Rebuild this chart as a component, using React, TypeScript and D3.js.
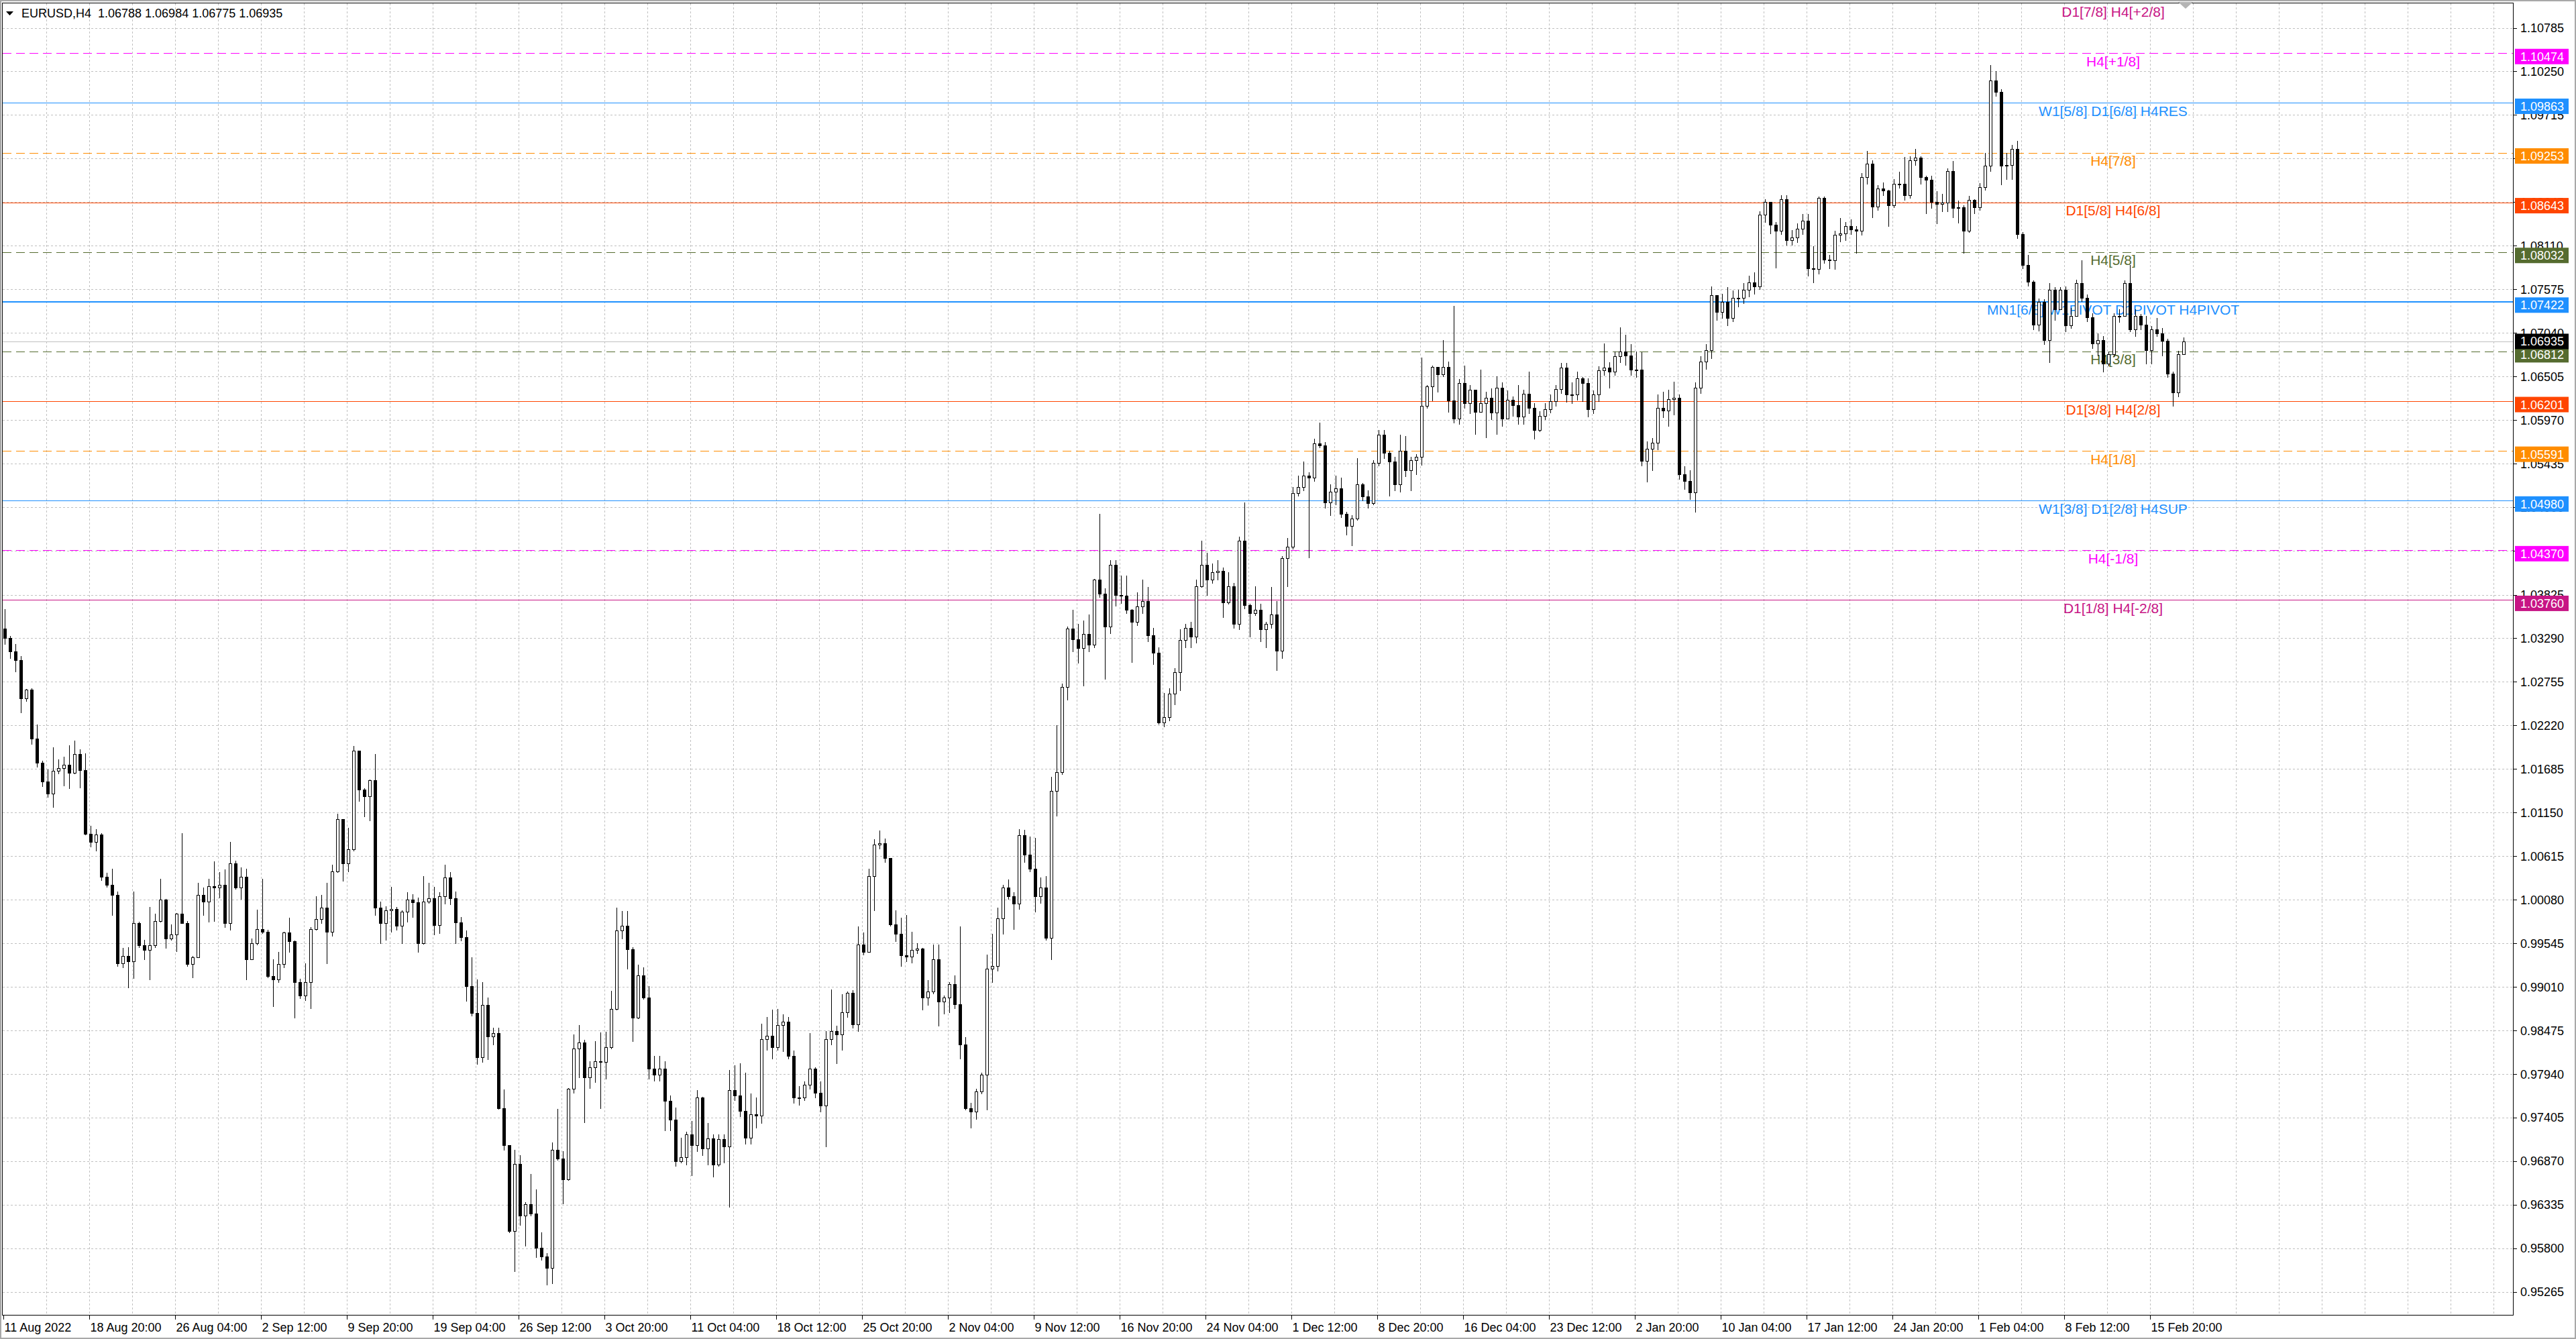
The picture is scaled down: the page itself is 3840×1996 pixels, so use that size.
import React from 'react';
import * as d3 from 'd3';

const WIDTH = 3840;
const HEIGHT = 1996;

const symbolTitle = 'EURUSD,H4  1.06788 1.06984 1.06775 1.06935';

// H4 candles, merged two bars at a time (8 hours each).
// values are pips above 1.0000, so 329 means 1.0329
const firstOpen = 341;

const closes = [
  329, 313, 302, 255, 266, 206, 176, 153, 138, 166,
  170, 174, 164, 187, 167, 89, 79, 88, 36, 26,
  14, -70, -61, -68, -21, -48, -54, -48, -18, 8,
  -40, -35, -9, -21, -71, -63, 14, 6, 25, 23,
  26, -21, 53, 23, 36, -65, -45, -28, -31, -86,
  -90, -71, -32, -43, -93, -110, -93, -28, -16, -2,
  -31, 43, 107, 53, 70, 191, 143, 135, 155, -2,
  -21, -5, -3, -24, -7, 8, 5, -45, 6, 10,
  -23, 12, 35, 10, -20, -38, -98, -131, -185, -121,
  -160, -156, -248, -293, -399, -316, -380, -366, -377, -419,
  -430, -444, -299, -310, -335, -224, -175, -167, -210, -198,
  -190, -191, -173, -126, -30, -24, -53, -137, -85, -112,
  -199, -207, -199, -239, -262, -313, -308, -280, -293, -235,
  -297, -285, -317, -286, -295, -226, -232, -251, -284, -255,
  -257, -163, -159, -173, -146, -142, -184, -235, -235, -219,
  -199, -229, -245, -163, -153, -157, -130, -106, -145, -47,
  -56, 37, 76, 77, 59, -22, -34, -60, -62, -54,
  -52, -112, -105, -65, -117, -112, -96, -120, -170, -248,
  -252, -227, -207, -77, -73, -15, 23, 12, 3, 87,
  63, 46, 12, 23, -39, 142, 165, 269, 341, 328,
  317, 334, 321, 401, 384, 343, 419, 382, 381, 364,
  349, 368, 375, 333, 311, 226, 232, 261, 287, 327,
  342, 331, 393, 419, 401, 410, 412, 373, 393, 347,
  449, 370, 360, 364, 340, 347, 358, 314, 427, 441,
  507, 515, 529, 526, 568, 566, 496, 509, 513, 482,
  467, 476, 518, 503, 495, 544, 579, 557, 546, 518,
  559, 535, 548, 552, 614, 638, 662, 653, 662, 621,
  599, 642, 618, 634, 607, 618, 624, 606, 637, 599,
  622, 615, 601, 629, 612, 585, 602, 610, 620, 635,
  661, 628, 628, 648, 642, 610, 628, 658, 661, 656,
  675, 681, 676, 659, 659, 547, 562, 569, 612, 609,
  623, 624, 530, 522, 508, 637, 669, 683, 750, 730,
  742, 722, 747, 747, 757, 766, 761, 849, 865, 837,
  829, 868, 818, 821, 832, 842, 783, 782, 870, 794,
  793, 824, 826, 835, 831, 829, 895, 912, 859, 881,
  879, 861, 887, 887, 873, 916, 919, 895, 892, 865,
  862, 864, 903, 857, 858, 829, 867, 858, 883, 909,
  1014, 1000, 909, 910, 930, 825, 787, 767, 714, 742,
  695, 757, 733, 757, 713, 725, 765, 747, 723, 691,
  695, 666, 678, 725, 725, 765, 708, 725, 714, 683,
  708, 703, 694, 654, 631, 678, 693.5,
];

const highs = [
  365, 332, 322, 307, 267, 268, 223, 179, 168, 195,
  180, 184, 198, 203, 193, 188, 99, 95, 90, 41,
  46, 18, -51, -50, 18, -19, -41, -1, -9, 34,
  9, -22, -8, 90, -18, -61, 29, 23, 34, 55,
  42, 45, 79, 56, 48, 46, -40, -4, 34, -29,
  -65, -56, -31, -14, -42, -89, -70, -26, 12, 14,
  29, 51, 114, 107, 96, 197, 191, 145, 156, 187,
  6, 0, 24, -1, -5, 17, 15, 11, 37, 29,
  24, 17, 51, 42, 18, -13, -30, -63, -90, -93,
  -112, -149, -149, -225, -293, -299, -306, -363, -329, -348,
  -400, -426, -290, -249, -301, -223, -157, -146, -164, -190,
  -166, -155, -154, -104, -2, -6, -6, -50, -72, -75,
  -98, -184, -184, -190, -232, -247, -284, -277, -264, -226,
  -234, -266, -280, -280, -280, -201, -195, -193, -204, -230,
  -235, -144, -136, -127, -126, -133, -136, -177, -221, -215,
  -156, -198, -215, -153, -102, -147, -108, -105, -103, -25,
  -32, 46, 82, 93, 83, 59, -5, -14, -11, -31,
  -45, -51, -91, -47, -47, -110, -93, -85, -25, -161,
  -241, -224, -204, -59, -34, -2, 26, 33, 17, 95,
  94, 86, 84, 35, 37, 159, 222, 273, 343, 364,
  347, 351, 358, 402, 482, 390, 425, 425, 406, 406,
  365, 385, 401, 392, 342, 318, 262, 268, 292, 340,
  347, 349, 401, 449, 434, 421, 425, 416, 410, 397,
  454, 496, 371, 393, 371, 349, 392, 375, 430, 452,
  515, 529, 546, 533, 574, 594, 570, 518, 529, 526,
  484, 480, 550, 520, 511, 548, 585, 585, 559, 552,
  579, 577, 552, 555, 674, 640, 664, 656, 695, 669,
  737, 647, 664, 640, 630, 659, 632, 636, 651, 643,
  633, 626, 640, 634, 656, 618, 608, 618, 628, 640,
  667, 667, 643, 656, 650, 648, 633, 663, 691, 668,
  681, 711, 702, 690, 681, 680, 571, 575, 628, 632,
  634, 644, 628, 540, 535, 643, 675, 690, 761, 745,
  752, 760, 756, 757, 765, 774, 778, 853, 868, 860,
  840, 873, 873, 830, 838, 850, 850, 810, 871, 871,
  800, 829, 845, 840, 843, 835, 900, 927, 916, 885,
  889, 880, 893, 902, 920, 921, 930, 921, 897, 897,
  878, 875, 906, 915, 866, 861, 872, 868, 888, 925,
  1033, 1025, 1003, 925, 935, 940, 828, 800, 768, 746,
  745, 765, 760, 760, 761, 735, 769, 793, 751, 728,
  703, 700, 681, 728, 733, 768, 787, 733, 727, 725,
  712, 722, 710, 697, 656, 682, 698.4,
];

const lows = [
  322, 305, 288, 238, 252, 199, 171, 147, 134, 122,
  163, 148, 145, 163, 146, 88, 73, 68, 32, 24,
  -11, -73, -75, -100, -88, -50, -65, -90, -50, -19,
  -51, -41, -55, -21, -73, -87, -63, -11, -19, -18,
  11, -26, -29, 21, 9, -90, -65, -47, -33, -87,
  -123, -93, -75, -56, -137, -113, -115, -125, -29, -21,
  -70, -36, 42, 31, 43, 68, 129, 110, 105, -11,
  -45, -41, -31, -29, -45, -19, -13, -56, -46, 4,
  -35, -33, 3, 2, -45, -42, -116, -134, -194, -191,
  -188, -170, -249, -299, -400, -448, -391, -417, -380, -431,
  -434, -465, -463, -311, -365, -336, -229, -210, -265, -223,
  -216, -248, -212, -175, -127, -40, -77, -166, -138, -114,
  -212, -214, -214, -275, -275, -319, -315, -317, -330, -301,
  -306, -317, -332, -319, -315, -369, -238, -258, -292, -292,
  -272, -266, -176, -187, -176, -178, -187, -241, -244, -238,
  -224, -235, -252, -295, -170, -193, -176, -136, -149, -153,
  -59, -56, -5, 71, 54, -24, -43, -73, -68, -69,
  -58, -127, -121, -107, -147, -132, -130, -125, -187, -250,
  -272, -261, -230, -250, -93, -79, -34, 9, -28, -3,
  54, 43, -7, 4, -41, -65, 111, 162, 254, 313,
  299, 271, 313, 318, 380, 279, 335, 369, 372, 360,
  300, 345, 360, 325, 297, 224, 221, 228, 248, 265,
  318, 318, 324, 392, 382, 397, 401, 355, 371, 342,
  340, 366, 331, 357, 325, 318, 342, 290, 305, 393,
  439, 504, 511, 428, 522, 563, 489, 480, 493, 478,
  456, 443, 474, 498, 489, 493, 541, 550, 504, 511,
  509, 528, 511, 530, 542, 612, 621, 632, 651, 607,
  594, 592, 612, 605, 580, 607, 576, 598, 580, 590,
  608, 602, 592, 592, 605, 574, 583, 598, 606, 614,
  630, 619, 618, 622, 620, 601, 605, 620, 652, 637,
  652, 668, 665, 652, 650, 541, 521, 535, 561, 600,
  590, 604, 525, 512, 500, 484, 630, 660, 673, 720,
  722, 713, 718, 736, 740, 749, 752, 758, 840, 826,
  784, 825, 812, 812, 815, 825, 774, 766, 777, 790,
  783, 782, 816, 818, 825, 802, 824, 887, 846, 855,
  873, 835, 858, 882, 867, 870, 910, 887, 851, 857,
  838, 853, 853, 846, 839, 802, 828, 851, 855, 880,
  903, 995, 886, 893, 893, 820, 783, 762, 708, 707,
  690, 668, 720, 733, 706, 710, 725, 743, 718, 685,
  676, 656, 664, 675, 717, 725, 706, 700, 708, 666,
  666, 700, 676, 650, 614, 626, 677.5,
];

const priceTicks = [
  '1.10785', '1.10250', '1.09715', '1.09180', '1.08645', '1.08110', '1.07575', '1.07040',
  '1.06505', '1.05970', '1.05435', '1.04900', '1.04365', '1.03825', '1.03290', '1.02755',
  '1.02220', '1.01685', '1.01150', '1.00615', '1.00080', '0.99545', '0.99010', '0.98475',
  '0.97940', '0.97405', '0.96870', '0.96335', '0.95800', '0.95265',
];

// one label every 32 H4 bars
const timeLabels = [
  '11 Aug 2022', '18 Aug 20:00', '26 Aug 04:00', '2 Sep 12:00', '9 Sep 20:00', '19 Sep 04:00',
  '26 Sep 12:00', '3 Oct 20:00', '11 Oct 04:00', '18 Oct 12:00', '25 Oct 20:00', '2 Nov 04:00',
  '9 Nov 12:00', '16 Nov 20:00', '24 Nov 04:00', '1 Dec 12:00', '8 Dec 20:00', '16 Dec 04:00',
  '23 Dec 12:00', '2 Jan 20:00', '10 Jan 04:00', '17 Jan 12:00', '24 Jan 20:00', '1 Feb 04:00',
  '8 Feb 12:00', '15 Feb 20:00',
];

// murrey math levels
const levelNames = [
  'D1[7/8] H4[+2/8]', 'H4[+1/8]', 'W1[5/8] D1[6/8] H4RES', 'H4[7/8]', 'D1[5/8] H4[6/8]',
  'H4[5/8]', 'MN1[6/8] W1PIVOT D1PIVOT H4PIVOT', 'H4[3/8]', 'D1[3/8] H4[2/8]', 'H4[1/8]',
  'W1[3/8] D1[2/8] H4SUP', 'H4[-1/8]', 'D1[1/8] H4[-2/8]',
];
const levelPrices = [
  1.11084, 1.10474, 1.09863, 1.09253, 1.08643, 1.08032, 1.07422, 1.06812, 1.06201,
  1.05591, 1.0498, 1.0437, 1.0376,
];
const currentPrice = 1.06935;

// styles for the levels above
const levelColors = [
  '#C71585', '#FF00FF', '#1E90FF', '#FF8C00', '#FF4500', '#556B2F', '#1E90FF',
  '#556B2F', '#FF4500', '#FF8C00', '#1E90FF', '#FF00FF', '#C71585',
];
const levelDashed = [false, true, false, true, false, true, false, true, false, true, false, true, false];
const levelWidths = [1, 1, 1, 1, 1, 1, 2, 1, 1, 1, 1, 1, 1];

const FONT = "'Liberation Sans', Arial, sans-serif";
const GRID = '#c0c0c0';

const App: React.FC = () => {
    const frame = { left: 3.5, top: 4.5, right: 3746.5, bottom: 1960 };

    const y = d3.scaleLinear()
        .domain([0.95265, 1.10785])
        .range([1925.8, 41.5]);

    // H4 bar index -> pixel centre
    const x = d3.scaleLinear()
        .domain([0, 812])
        .range([5, 3253]);

    const toPrice = (pips: number) => 1 + pips / 10000;

    const candles = closes.map((c, i) => {
        const o = i === 0 ? firstOpen : closes[i - 1];
        return {
            i,
            o: toPrice(o),
            c: toPrice(c),
            h: toPrice(Math.max(highs[i], o, c)),
            l: toPrice(Math.min(lows[i], o, c)),
        };
    });

    const gridBars = d3.range(16, 935, 16);
    const snap = (v: number) => Math.round(v) + 0.5;
    const boxShift = 5; // level tags sit a little below their line

    return (
        <div style={{ position: 'absolute', left: 0, top: 0 }}>
            <svg width={WIDTH} height={HEIGHT} style={{ display: 'block', background: '#fff' }} fontFamily={FONT}>
                <rect x={1} y={1} width={WIDTH - 2} height={HEIGHT - 2} fill="none" stroke="#a8a8a8" strokeWidth={2} />

                {/* grid */}
                <g stroke={GRID} strokeWidth={1} strokeDasharray="3,3" shapeRendering="crispEdges">
                    {priceTicks.map(t => (
                        <line key={t} x1={frame.left} x2={frame.right} y1={snap(y(+t))} y2={snap(y(+t))} />
                    ))}
                    {gridBars.map(k => (
                        <line key={k} x1={snap(x(k))} x2={snap(x(k))} y1={frame.top} y2={frame.bottom} />
                    ))}
                </g>

                {/* current price line */}
                <line x1={frame.left} x2={frame.right} y1={snap(y(currentPrice))} y2={snap(y(currentPrice))}
                    stroke="#c0c0c0" shapeRendering="crispEdges" />

                {/* level lines */}
                <g shapeRendering="crispEdges">
                    {levelPrices.map((p, i) => (p < 1.11 ? (
                        <line key={i} x1={frame.left} x2={frame.right}
                            y1={levelWidths[i] === 2 ? Math.round(y(p)) : snap(y(p))}
                            y2={levelWidths[i] === 2 ? Math.round(y(p)) : snap(y(p))}
                            stroke={levelColors[i]} strokeWidth={levelWidths[i]}
                            strokeDasharray={levelDashed[i] ? '13,7' : undefined} />
                    ) : null))}
                </g>

                {/* level captions */}
                <g fontSize={21} textAnchor="middle">
                    {levelNames.map((name, i) => (
                        <text key={name} x={3150} y={y(levelPrices[i]) + 19.5} fill={levelColors[i]}>{name}</text>
                    ))}
                </g>

                {/* candles */}
                <g shapeRendering="crispEdges">
                    {candles.map(d => {
                        const cx = Math.round(x(2 * d.i + 0.5));
                        const top = Math.round(y(Math.max(d.o, d.c)));
                        const bot = Math.round(y(Math.min(d.o, d.c)));
                        const bull = d.c >= d.o;
                        return (
                            <g key={d.i}>
                                <line x1={cx + 0.5} x2={cx + 0.5} y1={Math.round(y(d.h))} y2={Math.round(y(d.l)) + 1} stroke="#000" />
                                {bull ? (
                                    <rect x={cx - 1.5} y={top + 0.5} width={4} height={Math.max(bot - top, 1)} fill="#fff" stroke="#000" />
                                ) : (
                                    <rect x={cx - 2} y={top} width={5} height={Math.max(bot - top, 1) + 1} fill="#000" />
                                )}
                            </g>
                        );
                    })}
                </g>

                {/* frame */}
                <rect x={frame.left} y={frame.top} width={frame.right - frame.left} height={frame.bottom - frame.top + 0.5}
                    fill="none" stroke="#000" shapeRendering="crispEdges" />

                {/* shift marker */}
                <polygon points="3247,3 3269,3 3258,13" fill="#b4b4b4" />

                {/* header */}
                <polygon points="9,17 20,17 14.5,23" fill="#000" />
                <text x={32} y={26} fontSize={18} fill="#000" style={{ whiteSpace: 'pre' }}>{symbolTitle}</text>

                {/* price axis */}
                <g fontSize={18} fill="#000">
                    {priceTicks.map(t => (
                        <g key={t}>
                            <line x1={frame.right} x2={3752} y1={snap(y(+t))} y2={snap(y(+t))} stroke="#000" shapeRendering="crispEdges" />
                            <text x={3757} y={y(+t) + 6.5}>{t}</text>
                        </g>
                    ))}
                </g>

                {/* level price boxes */}
                <g fontSize={18}>
                    {levelPrices.map((p, i) => (p < 1.11 ? (
                        <g key={i}>
                            <rect x={3749} y={y(p) + boxShift - 11.5} width={80} height={23} fill={levelColors[i]} />
                            <text x={3757} y={y(p) + boxShift + 6.5} fill="#fff">{p.toFixed(5)}</text>
                        </g>
                    ) : null))}
                    <rect x={3749} y={y(currentPrice) - 11.5} width={80} height={23} fill="#000" />
                    <text x={3757} y={y(currentPrice) + 6.5} fill="#fff">{currentPrice.toFixed(5)}</text>
                </g>

                {/* time axis */}
                <g fontSize={18} fill="#000">
                    {timeLabels.map((label, i) => {
                        const tx = snap(x(i * 32));
                        return (
                            <g key={label}>
                                <line x1={tx} x2={tx} y1={frame.bottom} y2={frame.bottom + 7} stroke="#000" shapeRendering="crispEdges" />
                                <text x={tx + 1} y={1985}>{label}</text>
                            </g>
                        );
                    })}
                </g>
            </svg>
        </div>
    );
};

export default App;
